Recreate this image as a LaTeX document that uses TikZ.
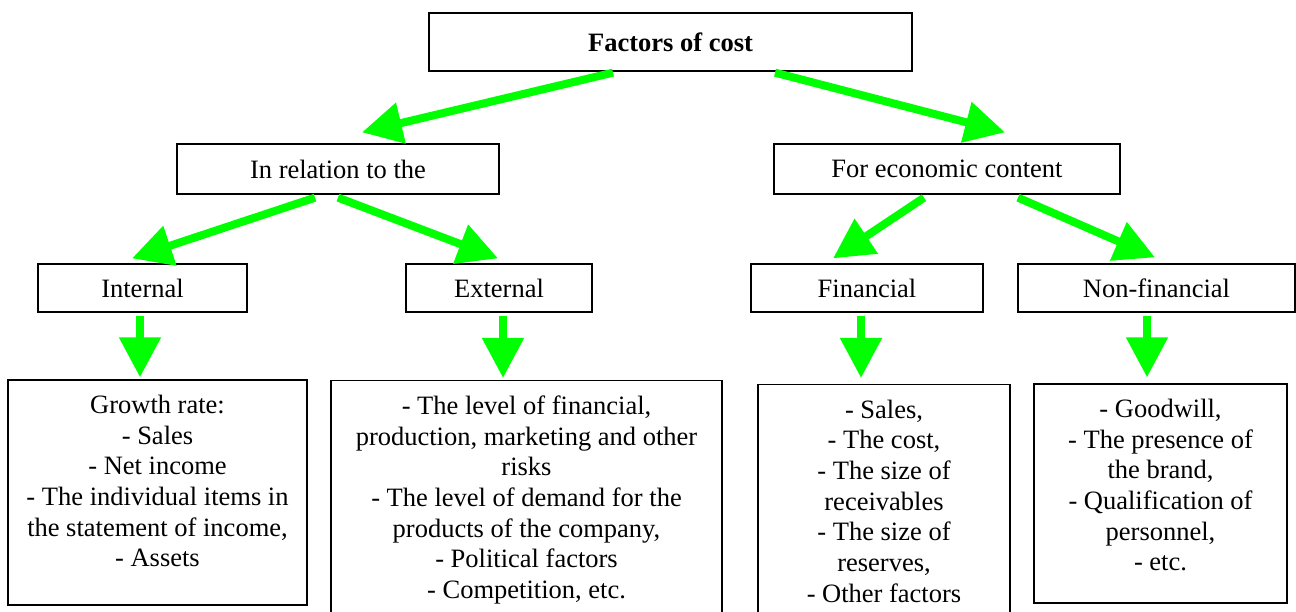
\documentclass[tikz,border=0pt]{standalone}
\usepackage{fontspec}
\setmainfont{Liberation Serif}
\usetikzlibrary{arrows.meta}

\newcommand{\topfill}[3]{\parbox[c][#2][t]{#1}{\centering\vspace*{15pt}#3}}

\begin{document}
\begin{tikzpicture}[x=1pt, y=-1pt,
    box/.style={draw, line width=1.3pt, inner sep=0pt, align=center},
    arr/.style={draw=green, line width=8pt, -{Triangle[length=40pt,width=40pt]}},
    font=\fontsize{26.5}{30.7}\selectfont]
        \clip (0,0) rectangle (1296,612);
        % Factors of cost tree
        \node[box, minimum width=483pt, minimum height=58pt, font=\fontsize{26.5}{30.7}\selectfont\bfseries] (cost) at (670.5,42) {Factors of cost};
        \node[box, minimum width=322pt, minimum height=50pt] (rel) at (338,169) {In relation to the};
        \node[box, minimum width=346pt, minimum height=50pt] (econ) at (947,169) {For economic content};
        \node[box, minimum width=209pt, minimum height=48pt] (int) at (142.5,288) {Internal};
        \node[box, minimum width=186pt, minimum height=48pt] (ext) at (499,288) {External};
        \node[box, minimum width=232pt, minimum height=48pt] (fin) at (867,288) {Financial};
        \node[box, minimum width=277pt, minimum height=48pt] (nonfin) at (1156.5,288) {Non-financial};
        \node[box] (b1) at (157.5,492.5) {\topfill{299pt}{225pt}{Growth rate:\\ - Sales\\ - Net income\\ - The individual items in\\ the statement of income,\\ - Assets}};
        \node[box, anchor=north] (b2) at (526.5,380) {\topfill{391pt}{260pt}{- The level of financial,\\ production, marketing and other\\ risks\\ - The level of demand for the\\ products of the company,\\ - Political factors\\ - Competition, etc.}};
        \node[box, anchor=north] (b3) at (884,384) {\topfill{252pt}{250pt}{- Sales,\\ - The cost,\\ - The size of\\ receivables\\ - The size of\\ reserves,\\ - Other factors}};
        \node[box] (b4) at (1160.5,493.5) {\topfill{253pt}{219pt}{- Goodwill,\\ - The presence of\\ the brand,\\ - Qualification of\\ personnel,\\ - etc.}};
        \draw[arr] ([xshift=-57.5pt,yshift=-1pt]cost.south) -- ([xshift=24pt,yshift=11pt]rel.north);
        \draw[arr] ([xshift=104.5pt,yshift=-1pt]cost.south) -- ([xshift=58pt,yshift=11pt]econ.north);
        \draw[arr] ([xshift=-23pt,yshift=-3pt]rel.south) -- ([xshift=-10.5pt,yshift=5pt]int.north);
        \draw[arr] ([yshift=-3pt]rel.south) -- ([xshift=-1pt,yshift=5pt]ext.north);
        \draw[arr] ([xshift=-23pt,yshift=-3pt]econ.south) -- ([xshift=-34pt,yshift=5pt]fin.north);
        \draw[arr] ([xshift=71pt,yshift=-3pt]econ.south) -- ([xshift=-1.5pt,yshift=6pt]nonfin.north);
        \draw[arr] ([xshift=-2.5pt,yshift=-3pt]int.south) -- ([xshift=-17.5pt,yshift=2pt]b1.north);
        \draw[arr] ([xshift=4pt,yshift=-3pt]ext.south) -- ([xshift=-23.5pt,yshift=2pt]b2.north);
        \draw[arr] ([xshift=-6pt,yshift=-3pt]fin.south) -- ([xshift=-23pt,yshift=6pt]b3.north);
        \draw[arr] ([xshift=-9.5pt,yshift=-3pt]nonfin.south) -- ([xshift=-13.5pt,yshift=6pt]b4.north);
    \end{tikzpicture}
\end{document}
